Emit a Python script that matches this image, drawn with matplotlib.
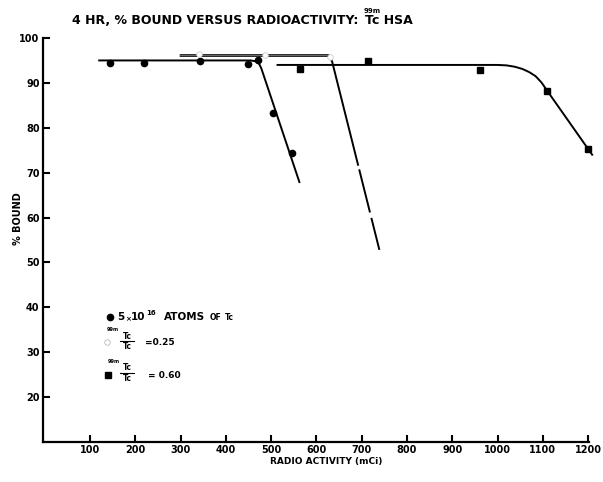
import matplotlib
matplotlib.use("Agg")
import matplotlib.pyplot as plt
import matplotlib.patheffects as pe

# ---- data ----
x_ticks = [100, 200, 300, 400, 500, 600, 700, 800, 900, 1000, 1100, 1200]
y_ticks = [20, 30, 40, 50, 60, 70, 80, 90, 100]

# series 1: 5x10^16 atoms of Tc (filled circles)
s1_x = [145, 219, 342, 448, 470, 503, 545]
s1_y = [94.4, 94.4, 94.9, 94.2, 95.0, 83.3, 74.4]
s1_curve_x = [118, 455, 466, 473, 478, 563]
s1_curve_y = [95.0, 95.0, 94.8, 94.3, 93.3, 67.7]

# series 2: 99mTc/Tc = 0.25 (open circles)
s2_x = [340, 486, 629]
s2_y = [96.4, 96.2, 95.8]
s2_curve_x = [298, 626, 631, 635, 739]
s2_curve_y = [96.1, 96.1, 95.6, 94.6, 52.8]
s2_split = 2  # flat part up to this index, descending part from it

# series 3: 99mTc/Tc = 0.60 (filled squares)
s3_x = [563, 713, 962, 1110, 1200]
s3_y = [93.1, 94.9, 92.9, 88.2, 75.3]
s3_curve_x = [514, 1000, 1020, 1038, 1055, 1070, 1084, 1097, 1110, 1209]
s3_curve_y = [94.0, 94.0, 93.9, 93.6, 93.1, 92.4, 91.5, 90.1, 88.2, 74.0]

FONT = "DejaVu Sans"
plt.rcParams["font.family"] = [FONT]

W, H = 603, 482
fig = plt.figure(figsize=(W / 100, H / 100), dpi=100)
ax = fig.add_axes([43 / W, 40 / H, 546 / W, 404 / H])

ax.set_xlim(-4, 1202)
ax.set_ylim(10, 100)

for s in ["top", "right"]:
    ax.spines[s].set_visible(False)
for s in ["left", "bottom"]:
    ax.spines[s].set_linewidth(1.6)

ax.set_xticks(x_ticks)
ax.set_xticklabels([str(v) for v in x_ticks])
ax.set_yticks(y_ticks)
ax.set_yticklabels([str(v) for v in y_ticks])
ax.tick_params(axis="both", direction="in", length=5, width=1.5, pad=2.5)
for lab in ax.get_xticklabels() + ax.get_yticklabels():
    lab.set_fontsize(7)
    lab.set_fontweight("bold")

LW = 1.4
# series 1
ax.plot(s1_curve_x, s1_curve_y, color="black", lw=LW, solid_capstyle="butt", clip_on=False)
ax.plot(s1_x, s1_y, "o", color="black", ms=4.5, clip_on=False)

# series 2: flat double line, descending long-dashed line
flat = ax.plot(s2_curve_x[:s2_split + 1], s2_curve_y[:s2_split + 1], color="#bbbbbb", lw=0.4,
               solid_capstyle="butt", clip_on=False)[0]
flat.set_path_effects([pe.Stroke(linewidth=1.9, foreground="black"), pe.Normal()])
dash = (0, (80.3 / LW, 2.7 / LW, 32.0 / LW, 4.0 / LW, 40.0 / LW, 10 / LW))
ax.plot(s2_curve_x[s2_split:], s2_curve_y[s2_split:], color="black", lw=LW, linestyle=dash,
        clip_on=False)
ax.plot(s2_x, s2_y, "o", mfc="white", mec="#cccccc", mew=0.6, ms=4, clip_on=False)

# series 3
ax.plot(s3_curve_x, s3_curve_y, color="black", lw=LW, clip_on=False)
ax.plot(s3_x, s3_y, "s", color="black", ms=4.6, clip_on=False)

# ---- axis labels ----
ax.text(0.518, -0.0495, "RADIO ACTIVITY (mCi)", transform=ax.transAxes, ha="center",
        va="center", fontsize=6.5, fontweight="bold")
ax.text(-0.0458, 0.554, "% BOUND", transform=ax.transAxes, ha="center", va="center",
        rotation=90, fontsize=7, fontweight="bold")


# ---- title ----
def fx(px):
    return px / W


def fy(py):
    return 1 - py / H


def after(prev, s, size, dx, dy=0, rel_y=0.0):
    return ax.annotate(s, xy=(1, rel_y), xycoords=prev, xytext=(dx, dy),
                       textcoords="offset points", fontsize=size, fontweight="bold",
                       ha="left", va="bottom", annotation_clip=False)


t1 = fig.text(fx(72), fy(24), "4 HR, % BOUND VERSUS RADIOACTIVITY:", fontsize=9,
              fontweight="heavy", va="baseline", ha="left")
t2 = after(t1, "Tc HSA", 9, 5)
ax.annotate("99m", xy=(0, 1), xycoords=t2, xytext=(-1.0, -0.3), textcoords="offset points",
            fontsize=5, fontweight="bold", ha="left", va="bottom", annotation_clip=False)


# ---- legend (hand drawn in the original) ----
def ax_x(px):
    return (px - 43) / 546


def ax_y(py):
    return (442 - py) / 404


def t(px, py, s, size, ha="left"):
    return ax.text(ax_x(px), ax_y(py), s, transform=ax.transAxes, fontsize=size,
                   fontweight="bold", ha=ha, va="baseline")


ax.plot([ax_x(110)], [ax_y(317)], "o", color="black", ms=4.5, transform=ax.transAxes,
        clip_on=False)
l1 = t(117, 320.5, "5", 7.5)
l2 = after(l1, "×", 5, 0.3)
l3 = after(l2, "10", 7.5, 0.3, rel_y=0.0)
l4 = after(l3, "16", 5, 0.3, dy=-2.5, rel_y=1.0)
l5 = ax.annotate("ATOMS", xy=(1, 0), xycoords=(l4, l3), xytext=(6, 0),
                 textcoords="offset points", fontsize=7.5, fontweight="bold", ha="left",
                 va="bottom", annotation_clip=False)
l6 = after(l5, "OF", 5.5, 3)
l7 = after(l6, "Tc", 5.5, 3)

ax.plot([ax_x(107)], [ax_y(342)], "o", mfc="white", mec="#bbbbbb", mew=0.6, ms=4,
        transform=ax.transAxes, clip_on=False)
t(107, 331, "99m", 3.5)
t(127, 339, "Tc", 5.5, ha="center")
ax.plot([ax_x(120), ax_x(134)], [ax_y(340.5), ax_y(340.5)], color="black", lw=0.8,
        transform=ax.transAxes, clip_on=False)
t(127, 349, "Tc", 5.5, ha="center")
t(145, 345, "=0.25", 6.5)

ax.plot([ax_x(108)], [ax_y(375)], "s", color="black", ms=4.6, transform=ax.transAxes,
        clip_on=False)
t(108, 363, "99m", 3.5)
t(127, 370, "Tc", 5.5, ha="center")
ax.plot([ax_x(120), ax_x(134)], [ax_y(373), ax_y(373)], color="black", lw=0.8,
        transform=ax.transAxes, clip_on=False)
t(127, 381, "Tc", 5.5, ha="center")
t(148, 378, "= 0.60", 6.5)

fig.savefig("out.png", dpi=100)
